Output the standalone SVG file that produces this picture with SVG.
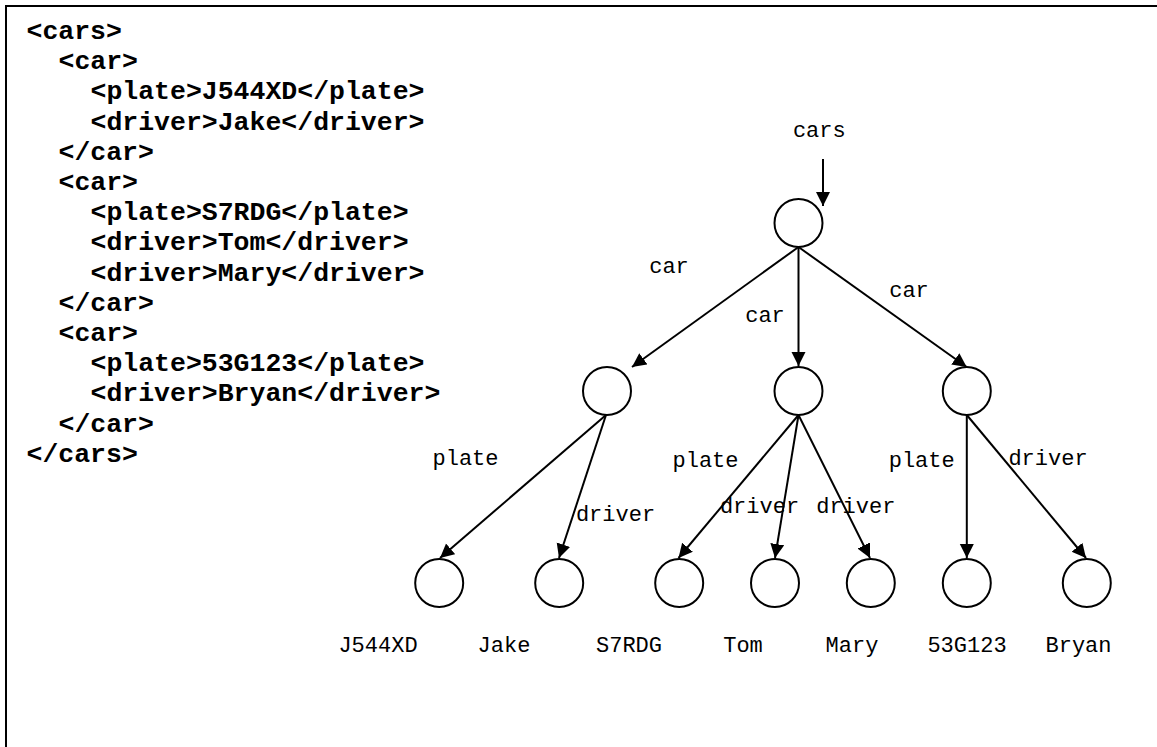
<svg xmlns="http://www.w3.org/2000/svg" width="1157" height="747" viewBox="0 0 1157 747">
<style>
.code{font-family:"Liberation Mono","Courier New",monospace;font-size:26.5px;font-weight:bold;fill:#000}
.lbl{font-family:"Liberation Mono","Courier New",monospace;font-size:22px;fill:#000;text-anchor:middle}
.node{fill:#fff;stroke:#000;stroke-width:2}
.edge{stroke:#000;stroke-width:2;fill:none;marker-end:url(#arr)}
</style>
<defs>
<marker id="arr" markerUnits="userSpaceOnUse" markerWidth="15" markerHeight="15" refX="14" refY="7" orient="auto">
<path d="M0,0 L14,7 L0,14 z" fill="#000"/>
</marker>
</defs>
<rect width="1157" height="747" fill="#fff"/>
<path d="M6,747 V6 H1157" fill="none" stroke="#000" stroke-width="2"/>
<g id="xml-code">
<text class="code" x="26.5" y="39">&lt;cars&gt;</text>
<text class="code" x="58.5" y="69.2">&lt;car&gt;</text>
<text class="code" x="90.5" y="99.4">&lt;plate&gt;J544XD&lt;/plate&gt;</text>
<text class="code" x="90.5" y="129.6">&lt;driver&gt;Jake&lt;/driver&gt;</text>
<text class="code" x="58.5" y="159.8">&lt;/car&gt;</text>
<text class="code" x="58.5" y="190">&lt;car&gt;</text>
<text class="code" x="90.5" y="220.2">&lt;plate&gt;S7RDG&lt;/plate&gt;</text>
<text class="code" x="90.5" y="250.4">&lt;driver&gt;Tom&lt;/driver&gt;</text>
<text class="code" x="90.5" y="280.6">&lt;driver&gt;Mary&lt;/driver&gt;</text>
<text class="code" x="58.5" y="310.8">&lt;/car&gt;</text>
<text class="code" x="58.5" y="341">&lt;car&gt;</text>
<text class="code" x="90.5" y="371.2">&lt;plate&gt;53G123&lt;/plate&gt;</text>
<text class="code" x="90.5" y="401.4">&lt;driver&gt;Bryan&lt;/driver&gt;</text>
<text class="code" x="58.5" y="431.6">&lt;/car&gt;</text>
<text class="code" x="26.5" y="461.8">&lt;/cars&gt;</text>
</g>
<g id="connectors">
<line class="edge" x1="823" y1="159" x2="823" y2="206"/>
<line class="edge" x1="798.5" y1="247" x2="632" y2="367"/>
<line class="edge" x1="798.5" y1="247" x2="798.5" y2="366"/>
<line class="edge" x1="798.5" y1="247" x2="966.7" y2="367"/>
<line class="edge" x1="606" y1="415" x2="440" y2="558"/>
<line class="edge" x1="606" y1="415" x2="559" y2="558"/>
<line class="edge" x1="798.5" y1="415" x2="678.5" y2="558"/>
<line class="edge" x1="798.5" y1="415" x2="775" y2="558"/>
<line class="edge" x1="798.5" y1="415" x2="870" y2="558"/>
<line class="edge" x1="966.8" y1="415" x2="966.8" y2="558"/>
<line class="edge" x1="966.8" y1="415" x2="1086" y2="558"/>
</g>
<g id="edge-labels">
<text class="lbl" x="819.3" y="137">cars</text>
<text class="lbl" x="669" y="273">car</text>
<text class="lbl" x="765" y="321.5">car</text>
<text class="lbl" x="909" y="297">car</text>
<text class="lbl" x="465.5" y="465">plate</text>
<text class="lbl" x="615.5" y="520.5">driver</text>
<text class="lbl" x="705.5" y="466.5">plate</text>
<text class="lbl" x="759.5" y="513">driver</text>
<text class="lbl" x="855.8" y="513">driver</text>
<text class="lbl" x="921.7" y="466.5">plate</text>
<text class="lbl" x="1048" y="465">driver</text>
</g>
<g id="node-cars"><circle class="node" cx="798.5" cy="223" r="24"/></g>
<g id="node-car1"><circle class="node" cx="607" cy="391" r="24"/></g>
<g id="node-car2"><circle class="node" cx="798.5" cy="391" r="24"/></g>
<g id="node-car3"><circle class="node" cx="966.8" cy="391" r="24"/></g>
<g id="node-J544XD"><circle class="node" cx="439.2" cy="583" r="24"/><text class="lbl" x="378" y="652">J544XD</text></g>
<g id="node-Jake"><circle class="node" cx="559.2" cy="583" r="24"/><text class="lbl" x="504" y="652">Jake</text></g>
<g id="node-S7RDG"><circle class="node" cx="679.2" cy="583" r="24"/><text class="lbl" x="629" y="652">S7RDG</text></g>
<g id="node-Tom"><circle class="node" cx="775" cy="583" r="24"/><text class="lbl" x="743" y="652">Tom</text></g>
<g id="node-Mary"><circle class="node" cx="870.8" cy="583" r="24"/><text class="lbl" x="852" y="652">Mary</text></g>
<g id="node-53G123"><circle class="node" cx="966.8" cy="583" r="24"/><text class="lbl" x="967" y="652">53G123</text></g>
<g id="node-Bryan"><circle class="node" cx="1086.8" cy="583" r="24"/><text class="lbl" x="1078.5" y="652">Bryan</text></g>
</svg>
